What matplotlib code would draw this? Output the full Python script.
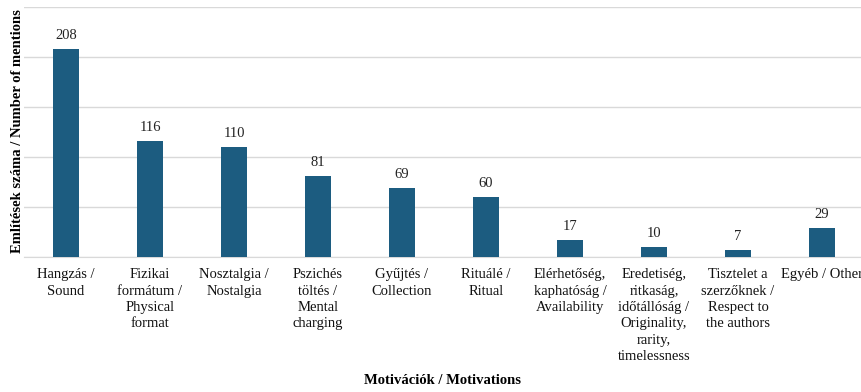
import matplotlib
matplotlib.use("Agg")
import matplotlib.pyplot as plt

categories = [
    "Hangzás /\nSound",
    "Fizikai\nformátum /\nPhysical\nformat",
    "Nosztalgia /\nNostalgia",
    "Pszichés\ntöltés /\nMental\ncharging",
    "Gyűjtés /\nCollection",
    "Rituálé /\nRitual",
    "Elérhetőség,\nkaphatóság /\nAvailability",
    "Eredetiség,\nritkaság,\nidőtállóság /\nOriginality,\nrarity,\ntimelessness",
    "Tisztelet a\nszerzőknek /\nRespect to\nthe authors",
    "Egyéb / Other",
]
values = [208, 116, 110, 81, 69, 60, 17, 10, 7, 29]

plt.rcParams['font.family'] = ['Liberation Serif', 'DejaVu Serif']

W, H = 861, 392
fig = plt.figure(figsize=(W / 100, H / 100), dpi=100)
left, right, top, bottom = 24, 864, 7, 257
ax = fig.add_axes([left / W, 1 - bottom / H, (right - left) / W, (bottom - top) / H])

x = list(range(len(categories)))
bars = ax.bar(x, values, width=0.31, color='#1C5C80', zorder=3)
for xi, v in zip(x, values):
    ax.annotate(str(v), (xi, v), xytext=(0, 5), textcoords='offset points',
                ha='center', va='bottom', fontsize=10.5, color='#222222')

ax.set_xlim(-0.5, len(categories) - 0.5)
ax.set_ylim(0, 250)
ax.set_yticks([0, 50, 100, 150, 200, 250])
ax.set_yticklabels([])
ax.tick_params(axis='y', length=0)
ax.yaxis.grid(True, color='#d9d9d9', linewidth=1, zorder=0)
ax.set_xticks(x)
ax.set_xticklabels(categories, fontsize=10.5, linespacing=1.34, color='#111111')
ax.tick_params(axis='x', length=0, pad=8)
for s in ['top', 'right', 'left']:
    ax.spines[s].set_visible(False)
ax.spines['bottom'].set_color('#d9d9d9')

fig.text(443 / W, 1 - 381 / H, "Motivációk / Motivations", ha='center', va='center',
         fontsize=10.5, fontweight='bold')
fig.text(18 / W, 1 - 131 / H, "Említések száma / Number of mentions", ha='center', va='center',
         rotation=90, fontsize=10.5, fontweight='bold')

fig.savefig("out.png", dpi=100)
